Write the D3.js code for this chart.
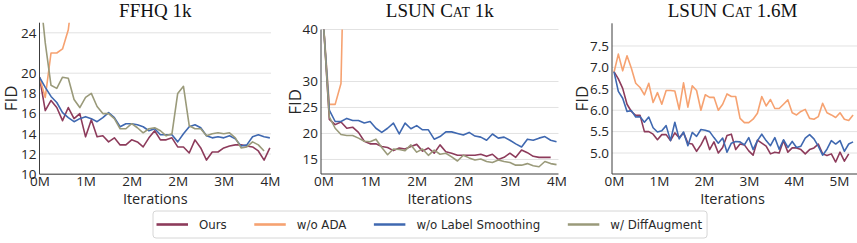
<!DOCTYPE html>
<html>
<head>
<meta charset="utf-8">
<script src="https://cdn.jsdelivr.net/npm/d3@7"></script>
<style>
  body { margin: 0; background: #fff; }
  svg { display: block; }
  .tick text { font-family: "Open Sans", sans-serif; font-size: 13.5px; fill: #262626; }
  .grid { stroke: #e2e2e2; stroke-width: 1; }
  .spine { stroke: #3c3c3c; stroke-width: 1; }
  .title { font-family: "Liberation Serif", serif; font-size: 19px; fill: #111; }
  .axis-label { font-family: "Open Sans", sans-serif; font-size: 17px; fill: #262626; }
  .legend text { font-family: "DejaVu Sans", sans-serif; font-size: 11.8px; fill: #2a2a2a; }
</style>
</head>
<body>
<div class="chart-container"></div>
<script>
// series names (legend order) and their colours
const seriesNames = ["Ours", "w/o ADA", "w/o Label Smoothing", "w/ DiffAugment"];
const seriesColors = ["#8d3b5b", "#f6a271", "#3f68b0", "#9a9a7a"];

// FFHQ 1k, one point every 0.1M iterations
const ffhqStep = 0.1;
const ffhqOurs = [19.6, 16.3, 17.3, 16.6, 15.3, 16.6, 15.5, 16.0, 13.7, 15.4,
  13.7, 13.8, 13.2, 13.6, 12.9, 12.9, 13.4, 13.2, 12.7, 13.6,
  14.3, 13.4, 13.4, 13.6, 12.7, 12.7, 12.1, 13.4, 12.6, 11.4,
  12.2, 12.2, 12.6, 12.8, 12.9, 12.9, 12.8, 12.7, 12.3, 11.4, 12.6];
const ffhqNoAda = [19.6, 17.6, 22.0, 22.0, 22.4, 24.3, 29.0, 36.0];
const ffhqNoLS = [19.6, 18.6, 17.7, 17.1, 16.1, 15.6, 15.2, 15.5, 15.7, 15.5,
  15.2, 15.6, 16.1, 15.6, 14.7, 15.0, 15.0, 14.9, 14.7, 14.3,
  14.5, 13.9, 13.9, 13.9, 13.2, 14.0, 14.7, 14.9, 14.6, 13.8,
  13.6, 13.7, 13.6, 13.8, 13.5, 12.8, 12.9, 13.7, 13.9, 13.7, 13.6];
const ffhqDiffAug = [28.5, 23.0, 18.8, 18.5, 19.6, 19.5, 17.4, 16.6, 17.6, 18.0,
  16.7, 16.0, 16.0, 15.5, 14.5, 14.5, 15.0, 14.6, 14.1, 14.5,
  14.6, 14.3, 13.8, 14.0, 18.0, 18.7, 14.8, 14.5, 14.5, 13.8,
  14.0, 14.1, 14.0, 14.1, 13.6, 12.6, 12.7, 13.2, 12.9, 12.3];
const ffhqXTicks = [0, 0.8, 1.6, 2.4, 3.2, 4.0];
const ffhqYTicks = [10, 12, 14, 16, 18, 20, 24];

// LSUN Cat 1k
const catStep = 0.1;
const catOurs = [41, 22.7, 21.7, 22.2, 21.0, 21.2, 20.2, 18.5, 18.0, 18.0,
  17.5, 17.3, 16.7, 17.2, 17.0, 17.5, 17.9, 16.6, 17.2, 16.2,
  17.8, 16.5, 16.2, 15.8, 15.8, 15.8, 15.8, 16.0, 15.6, 16.0,
  15.0, 15.4, 16.2, 15.4, 16.8, 16.3, 15.6, 15.4, 15.4, 15.4];
const catNoAda = [41, 25.6, 25.6, 29.6, 80];
const catNoLS = [41, 24.5, 22.3, 22.3, 22.9, 22.5, 22.5, 22.0, 22.3, 21.0,
  20.2, 21.0, 22.0, 19.9, 22.0, 20.9, 21.5, 20.7, 20.7, 18.9,
  19.4, 20.3, 20.3, 20.0, 19.7, 20.2, 19.5, 19.3, 18.7, 19.9,
  19.1, 19.3, 18.7, 18.0, 17.4, 18.9, 18.7, 19.1, 19.4, 18.7, 18.4];
const catDiffAug = [41, 23.2, 21.0, 19.8, 19.6, 19.6, 19.1, 18.5, 18.4, 18.9,
  17.3, 15.9, 17.0, 16.9, 16.7, 17.8, 16.4, 17.0, 15.8, 16.8,
  16.0, 16.2, 15.5, 14.7, 15.8, 15.3, 14.9, 15.1, 14.6, 14.4,
  14.9, 14.6, 14.4, 13.9, 13.9, 14.2, 13.8, 13.6, 14.6, 14.2, 14.0];
const catXTicks = [0, 0.8, 1.6, 2.4, 3.2, 4.0];
const catYTicks = [15, 20, 25, 30, 40];

// LSUN Cat 1.6M
const cat16Step = 0.0966;
const cat16Ours = [6.90, 6.73, 6.51, 6.14, 5.97, 5.88, 5.88, 5.50, 5.50, 5.44,
  5.31, 5.43, 5.43, 5.29, 5.47, 5.36, 5.47, 5.23, 5.21, 5.04,
  5.19, 5.39, 5.08, 5.26, 5.00, 5.13, 5.41, 5.44, 5.08, 5.21,
  5.19, 5.05, 4.95, 5.30, 5.23, 5.16, 4.98, 5.02, 5.00, 5.29,
  5.02, 5.12, 5.12, 5.08, 4.98, 5.08, 5.12, 5.21, 4.98, 4.94,
  4.98, 4.79, 5.02, 4.81, 4.98];
const cat16NoAda = [6.88, 7.31, 6.92, 7.27, 6.98, 6.63, 6.53, 6.36, 6.63, 6.18,
  6.41, 6.14, 6.46, 6.46, 6.45, 6.02, 6.64, 6.07, 6.57, 6.46,
  6.00, 6.36, 6.30, 6.30, 6.00, 6.14, 6.38, 6.32, 6.32, 5.81,
  5.71, 5.71, 5.79, 5.93, 6.32, 6.10, 6.25, 6.04, 6.04, 6.14,
  6.24, 5.94, 5.89, 5.97, 6.02, 5.81, 5.79, 5.85, 6.16, 5.94,
  5.89, 5.83, 5.94, 5.79, 5.76, 5.89];
const cat16NoLS = [6.90, 6.44, 6.28, 5.97, 5.99, 5.84, 5.85, 5.72, 5.84, 5.59,
  5.49, 5.52, 5.64, 5.29, 5.72, 5.33, 5.49, 5.17, 5.48, 5.39,
  5.55, 5.53, 5.50, 5.36, 5.23, 5.35, 5.02, 5.23, 5.27, 5.26,
  5.19, 5.36, 5.08, 5.29, 5.44, 5.29, 5.17, 5.36, 5.09, 5.31,
  5.13, 5.27, 5.13, 5.16, 5.35, 5.43, 5.33, 5.16, 4.95, 5.09,
  5.29, 5.21, 5.29, 5.04, 5.21, 5.26];
const cat16XTicks = [0, 1, 2, 3, 4, 5];
const cat16YTicks = [5.0, 5.5, 6.0, 6.5, 7.0, 7.5];

const W = 857, H = 243;

// title pieces: [text, smallcaps?]
const panels = [
  {title: [["FFHQ 1k", false]], left: 39.5, right: 271, top: 22.7, bottom: 174.2,
   xDomain: [0, 4.02], yDomain: [10, 25], xTicks: ffhqXTicks, yTicks: ffhqYTicks,
   yFmt: d3.format("d"), step: ffhqStep, fidX: 11,
   series: [ffhqOurs, ffhqNoAda, ffhqNoLS, ffhqDiffAug]},
  {title: [["LSUN C", false], ["AT", true], [" 1k", false]], left: 321, right: 558.5, top: 29.5, bottom: 174,
   xDomain: [-0.043, 4.034], yDomain: [12.2, 40], xTicks: catXTicks, yTicks: catYTicks,
   yFmt: d3.format("d"), step: catStep, fidX: 295,
   series: [catOurs, catNoAda, catNoLS, catDiffAug]},
  {title: [["LSUN C", false], ["AT", true], [" 1.6M", false]], left: 612, right: 860, top: 23.3, bottom: 174,
   xDomain: [-0.044, 5.467], yDomain: [4.51, 8.03], xTicks: cat16XTicks, yTicks: cat16YTicks,
   yFmt: d3.format(".1f"), step: cat16Step, fidX: 582,
   series: [cat16Ours, cat16NoAda, cat16NoLS, null]}
];

const svg = d3.select(".chart-container").append("svg")
    .attr("width", W)
    .attr("height", H);

panels.forEach((p, pi) => {
  const x = d3.scaleLinear().domain(p.xDomain).range([p.left, p.right]);
  const y = d3.scaleLinear().domain(p.yDomain).range([p.bottom, p.top]);
  const g = svg.append("g");

  // grid
  g.selectAll(".grid")
      .data(p.yTicks)
    .enter().append("line")
      .attr("class", "grid")
      .attr("x1", p.left).attr("x2", p.right)
      .attr("y1", (d) => y(d)).attr("y2", (d) => y(d));

  g.append("clipPath")
      .attr("id", "clip" + pi)
    .append("rect")
      .attr("x", p.left).attr("y", p.top)
      .attr("width", p.right - p.left).attr("height", p.bottom - p.top);

  const line = d3.line()
      .x((d, i) => x(i * p.step))
      .y((d) => y(d));

  p.series.forEach((vals, si) => {
    if (!vals) return;
    g.append("path")
        .datum(vals)
        .attr("clip-path", `url(#clip${pi})`)
        .attr("fill", "none")
        .attr("stroke", seriesColors[si])
        .attr("stroke-width", 1.6)
        .attr("stroke-linejoin", "round")
        .attr("d", line);
  });

  // axes (no tick marks, labels only)
  const xAxis = g.append("g")
      .attr("transform", "translate(0," + p.bottom + ")")
      .call(d3.axisBottom(x).tickValues(p.xTicks).tickSize(0).tickPadding(2)
        .tickFormat((d) => d3.format(".0f")(d) + "M"));
  xAxis.select(".domain").remove();

  const yAxis = g.append("g")
      .attr("transform", "translate(" + p.left + ",0)")
      .call(d3.axisLeft(y).tickValues(p.yTicks).tickSize(0).tickPadding(3).tickFormat(p.yFmt));
  yAxis.select(".domain").remove();
  svg.selectAll(".tick text").attr("font-family", null).attr("font-size", null);

  g.append("line").attr("class", "spine")
      .attr("x1", p.left).attr("x2", p.left).attr("y1", p.top).attr("y2", p.bottom);
  g.append("line").attr("class", "spine")
      .attr("x1", p.left).attr("x2", p.right).attr("y1", p.bottom).attr("y2", p.bottom);

  // title with small caps
  const cx = (p.left + Math.min(p.right, W - 4)) / 2;
  const t = g.append("text")
      .attr("class", "title")
      .attr("x", cx)
      .attr("y", 16.5)
      .style("text-anchor", "middle");
  p.title.forEach(([txt, small]) => {
    t.append("tspan").attr("font-size", small ? "14px" : null).text(txt);
  });

  g.append("text")
      .attr("class", "axis-label")
      .attr("transform", `translate(${p.fidX},${(p.top + p.bottom) / 2}) rotate(-90)`)
      .attr("dy", "0.35em")
      .style("text-anchor", "middle")
      .text("FID");

  g.append("text")
      .attr("class", "axis-label")
      .attr("x", cx)
      .attr("y", 204)
      .style("font-size", "14.5px")
      .style("text-anchor", "middle")
      .text("Iterations");
});

// legend
const legend = svg.append("g").attr("class", "legend");
const box = legend.append("rect")
    .attr("x", 153).attr("y", 211)
    .attr("height", 27).attr("rx", 3)
    .attr("fill", "#fff").attr("stroke", "#d6d6d6");
let lx = 156.5;
seriesNames.forEach((name, i) => {
  legend.append("line")
      .attr("x1", lx).attr("x2", lx + 31.5)
      .attr("y1", 224.5).attr("y2", 224.5)
      .attr("stroke", seriesColors[i])
      .attr("stroke-width", 2.6);
  const txt = legend.append("text")
      .attr("x", lx + 42.5)
      .attr("y", 224.5)
      .attr("dy", "0.35em")
      .text(name);
  lx = lx + 42.5 + txt.node().getComputedTextLength() + 27.5;
});
box.attr("width", lx - 27.5 + 5 - 153);
</script>
</body>
</html>
